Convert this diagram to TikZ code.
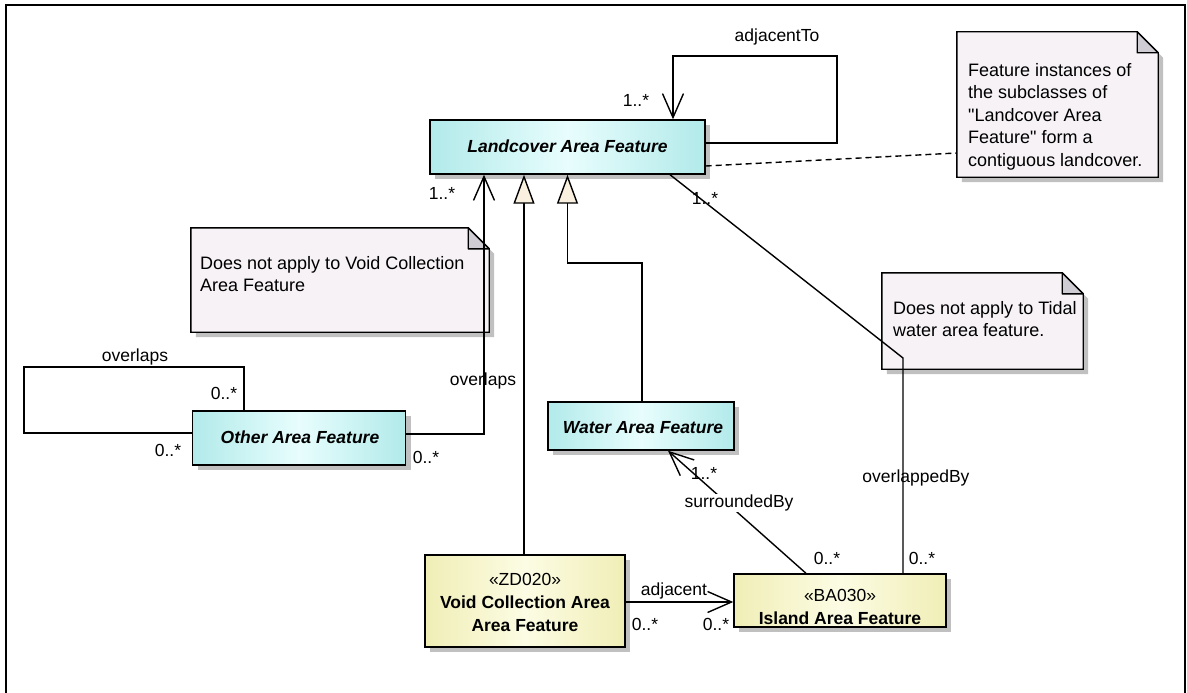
\documentclass[tikz,border=0pt]{standalone}
\usepackage{fontspec}
\setmainfont{Liberation Sans}
\usetikzlibrary{arrows.meta,shadows}
\definecolor{cyE}{RGB}{178,234,234}
\definecolor{cyM}{RGB}{232,253,253}
\definecolor{yeE}{RGB}{240,238,182}
\definecolor{yeM}{RGB}{252,252,228}
\definecolor{notebg}{RGB}{246,242,246}
\definecolor{foldc}{RGB}{208,204,212}
\definecolor{shd}{RGB}{192,192,192}
\definecolor{genfill}{RGB}{250,240,224}
\newcommand\dfont{\fontsize{17.5}{22}\selectfont}
\newcommand\nfont{\fontsize{18}{22.5}\selectfont}
\newcommand\cfont{\fontsize{17.5}{23}\selectfont}
\begin{document}
\begin{tikzpicture}[x=1pt,y=-1pt,font=\dfont,
  box/.style={draw=black,line width=1.4pt,inner sep=0pt,
    drop shadow={shadow xshift=5pt,shadow yshift=-5pt,fill=shd,opacity=1}},
  cyanbox/.style={box,left color=cyE,right color=cyE,middle color=cyM},
  yellbox/.style={box,left color=yeE,right color=yeE,middle color=yeM},
  clstext/.style={font=\cfont,align=center,inner sep=0pt},
  notebody/.style={inner sep=0pt},
  notetext/.style={font=\nfont,align=left,inner sep=0pt,anchor=north west},
  lbl/.style={inner sep=0pt},
  assoc/.style={draw=black,line width=1.4pt},
  nav/.style={assoc,-{Straight Barb[length=24pt,width=21pt]}},
  gen/.style={assoc,-{Triangle[length=29pt,width=21pt,fill=genfill]}},
  dashline/.style={draw=black,line width=1.4pt,dash pattern=on 6pt off 4pt}
]
\useasboundingbox (0,0) rectangle (1187,693);
\fill[white] (0,0) rectangle (1187,693);
% frame
\draw[line width=1.8pt] (6,720) -- (6,5) -- (1185,5) -- (1185,720);

% notes
\node[notebody,minimum width=201pt,minimum height=145pt] (n1) at (1057.5,104.5) {};
\node[notebody,minimum width=298pt,minimum height=104pt] (n2) at (340,280) {};
\node[notebody,minimum width=201pt,minimum height=96pt] (n3) at (982.5,321) {};
\foreach \n in {n1,n2,n3}{
  \fill[shd] ([xshift=5pt,yshift=-5pt]\n.south west) -- ([xshift=5pt,yshift=-5pt]\n.north west)
    -- ([xshift=-16pt,yshift=-5pt]\n.north east) -- ([xshift=5pt,yshift=-26pt]\n.north east)
    -- ([xshift=5pt,yshift=-5pt]\n.south east) -- cycle;
  \filldraw[fill=notebg,draw=black,line width=1.4pt] (\n.south west) -- (\n.north west)
    -- ([xshift=-21pt]\n.north east) -- ([yshift=-21pt]\n.north east) -- (\n.south east) -- cycle;
  \filldraw[fill=foldc,draw=black,line width=1.4pt,line join=round] ([xshift=-21pt]\n.north east)
    -- ([xshift=-21pt,yshift=-21pt]\n.north east) -- ([yshift=-21pt]\n.north east) -- cycle;
}
\node[notetext] (n1t) at (968,63) {Feature instances of\\the subclasses of\\\textquotedbl Landcover Area\\Feature\textquotedbl{} form a\\contiguous landcover.};
\node[notetext] (n2t) at (200,256) {Does not apply to Void Collection\\Area Feature};
\node[notetext] (n3t) at (893,301) {Does not apply to Tidal\\water area feature.};

% classes
\node[cyanbox,minimum width=275pt,minimum height=54pt] (land) at (567.5,147) {};
\node[cyanbox,minimum width=213pt,minimum height=54pt] (other) at (299,438) {};
\node[cyanbox,minimum width=186pt,minimum height=48pt] (water) at (641,426) {};
\node[yellbox,minimum width=200pt,minimum height=92pt] (void) at (525,601) {};
\node[yellbox,minimum width=212pt,minimum height=53pt] (island) at (840,600.5) {};

\node[clstext] (landt) at (567.5,146) {\bfseries\itshape Landcover Area Feature};
\node[clstext] (othert) at (300,437) {\bfseries\itshape Other Area Feature};
\node[clstext] (watert) at (643,428) {\bfseries\itshape Water Area Feature};
\node[clstext] (voidt) at (525,602) {«ZD020»\\\textbf{Void Collection Area}\\\textbf{Area Feature}};
\node[clstext] (islandt) at (840,607) {«BA030»\\\textbf{Island Area Feature}};

% connectors
\coordinate (lA) at (837,56);
\draw[nav] ([yshift=4pt]land.east) -| (lA) -| ([xshift=105.5pt]land.north);
\draw[dashline] ([yshift=-19pt]land.east) -- ([yshift=-48.5pt]n1.west);

\draw[gen] ([xshift=-1pt]void.north) -- ([xshift=-1pt]void.north |- land.south);
\coordinate (wb) at (567.5,263);
\draw[gen] ([xshift=1pt]water.north) |- (wb) -- (land.south);

\coordinate (ob) at (484,0);
\draw[nav] ([yshift=4pt]other.east) -| (ob |- land.south);

\coordinate (ox) at (244,367);
\coordinate (oy) at (24,433);
\draw[assoc] (ox |- other.north) -- (ox) -| (oy) -- (oy -| other.west);

\coordinate (dk) at (903,358);
\draw[assoc] ([xshift=102.5pt]land.south) -- (dk) -- (dk |- island.north);

\draw[nav] ([xshift=-34pt]island.north) -- ([xshift=27pt]water.south);

\draw[nav] ([yshift=-1pt]void.east) coordinate (av) -- (av -| island.west);

% labels
\node[lbl] (l1) at (777,37) {adjacentTo};
\node[lbl] (l2) at (636,100) {1..*};
\node[lbl] (l3) at (442,193) {1..*};
\node[lbl] (l4) at (705,198) {1..*};
\node[lbl] (l5) at (135,357) {overlaps};
\node[lbl] (l6) at (224,393) {0..*};
\node[lbl] (l7) at (168,450) {0..*};
\node[lbl] (l8) at (483,381) {overlaps};
\node[lbl] (l9) at (426,457) {0..*};
\node[lbl] (l10) at (704,473) {1..*};
\node[lbl,fill=white,inner sep=1pt] (l11) at (739,503) {surroundedBy};
\node[lbl] (l12) at (827,558) {0..*};
\node[lbl] (l13) at (922,558) {0..*};
\node[lbl] (l14) at (916,478) {overlappedBy};
\node[lbl] (l15) at (674,591) {adjacent};
\node[lbl] (l16) at (645,624) {0..*};
\node[lbl] (l17) at (716,624) {0..*};
\end{tikzpicture}
\end{document}
